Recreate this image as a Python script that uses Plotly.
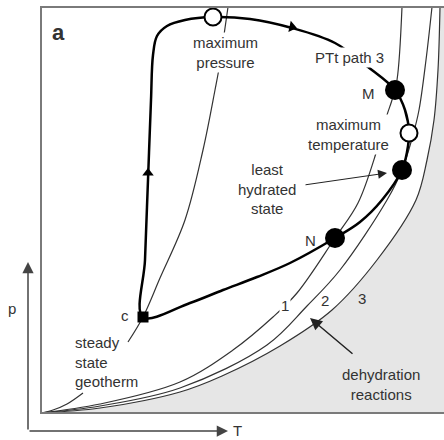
import plotly.graph_objects as go

# Schematic P-T diagram. Units: T measured from the box's left edge, p from the box's bottom (arbitrary units)
# Dehydration reaction curves 1, 2, 3
curve1_T = [0, 59, 139, 192, 232, 256, 294, 317, 336, 346, 351, 356, 361]
curve1_p = [0, 9, 31, 63, 96, 120, 175, 210, 263, 298, 313, 333, 406]
curve2_T = [0, 59, 139, 226, 266, 299, 346, 361, 372, 378, 385, 391]
curve2_p = [0, 7, 25, 68, 107, 143, 213, 243, 278, 303, 353, 406]
curve3_T = [0, 59, 139, 181, 239, 291, 336, 375, 386, 393, 397, 399]
curve3_p = [0, 5, 21, 37, 67, 103, 153, 213, 253, 293, 343, 406]

# Steady state geotherm (lower piece and upper piece, broken by its label)
geo_low_T = [0, 12, 26, 42]
geo_low_p = [0, 3, 9, 20]
geo_up_T = [87, 102, 119, 144, 162, 174, 179, 183, 187]
geo_up_p = [71, 96, 135, 193, 263, 323, 350, 378, 406]

# PTt path 3
path_T = [102, 104, 107, 110, 112, 116, 126, 144, 172, 209, 251, 294, 327, 354, 364, 368,
          366, 361, 341, 319, 294, 249, 216, 182, 149, 102]
path_p = [96, 153, 233, 313, 358, 377, 387, 393, 396, 394, 385, 370, 346, 323, 303, 280,
          261, 243, 213, 191, 175, 150, 136, 123, 110, 96]

# Key points
filled_T = [354, 361, 294]      # M, least hydrated state, N
filled_p = [323, 243, 175]
open_T = [172, 368]             # maximum pressure, maximum temperature
open_p = [396, 280]
c_T = [102]
c_p = [96]

box_top = 406
line_col = '#333333'
txt_col = '#333333'
font_fam = 'Liberation Sans, Arial, sans-serif'

fig = go.Figure()

# grey field beyond reaction 3
fig.add_trace(go.Scatter(x=[450, 450], y=[0, box_top], mode='lines', line=dict(width=0),
                         hoverinfo='skip', showlegend=False))
fig.add_trace(go.Scatter(x=curve3_T, y=curve3_p, mode='lines', fill='tonextx', fillcolor='#e6e6e6',
                         line=dict(color=line_col, width=1.2, shape='spline'), showlegend=False))
for xs, ys in [(curve1_T, curve1_p), (curve2_T, curve2_p), (geo_low_T, geo_low_p), (geo_up_T, geo_up_p)]:
    fig.add_trace(go.Scatter(x=xs, y=ys, mode='lines',
                             line=dict(color=line_col, width=1.2, shape='spline'), showlegend=False))

# the path
fig.add_trace(go.Scatter(x=path_T, y=path_p, mode='lines',
                         line=dict(color='black', width=2.5, shape='spline'), showlegend=False))

# direction arrows on path
fig.add_trace(go.Scatter(x=[107], y=[240], mode='markers',
                         marker=dict(symbol='triangle-up', size=10, color='black'), showlegend=False))
fig.add_trace(go.Scatter(x=[251], y=[386], mode='markers',
                         marker=dict(symbol='triangle-right', size=10, color='black', angle=12),
                         showlegend=False))

# points
fig.add_trace(go.Scatter(x=filled_T, y=filled_p, mode='markers',
                         marker=dict(symbol='circle', size=20, color='black'), showlegend=False))
fig.add_trace(go.Scatter(x=open_T, y=open_p, mode='markers',
                         marker=dict(symbol='circle', size=17, color='white',
                                     line=dict(color='black', width=2)), showlegend=False))
fig.add_trace(go.Scatter(x=c_T, y=c_p, mode='markers',
                         marker=dict(symbol='square', size=11, color='black'), showlegend=False))

# frame
fig.add_shape(type='rect', x0=0, x1=420, y0=0, y1=box_top, line=dict(color='#7a7a7a', width=2),
              layer='above')

def label(x, y, text, size=15, xanchor='center', bg=None, bold=False):
    if bold:
        text = '<b>' + text + '</b>'
    fig.add_annotation(x=x, y=y, text=text, showarrow=False, xanchor=xanchor, yanchor='middle',
                       font=dict(family=font_fam, size=size, color=txt_col),
                       bgcolor=bg, borderpad=1, align='left' if xanchor == 'left' else 'center')

label(17, 381, 'a', size=22, bold=True)
label(184, 361, 'maximum<br>pressure', bg='white')
label(308, 356, 'PTt path 3', bg='white')
label(327, 320, 'M')
label(307, 279, 'maximum<br>temperature', bg='white')
label(226, 224, 'least<br>hydrated<br>state')
label(269, 173, 'N')
label(84, 98, 'c')
label(32, 51, 'steady<br>state<br>geotherm', xanchor='left')
label(244, 108, '1', bg='white')
label(284, 113, '2')
label(321, 115, '3')
label(340, 29, 'dehydration<br>reactions')
label(-29, 105, 'p')
label(196, -17, 'T')

def arrow(tx, ty, hx, hy, width=1.2, size=1.5, color='#222222'):
    fig.add_annotation(x=hx, y=hy, ax=tx, ay=ty, xref='x', yref='y', axref='x', ayref='y',
                       showarrow=True, arrowhead=2, arrowsize=size, arrowwidth=width,
                       arrowcolor=color, standoff=0, text='')

arrow(263, 228, 346, 240, width=1, size=1.8)
arrow(313, 58, 269, 95, width=1.5, size=1.6)
arrow(-13, -18, -13, 151, width=1.5, size=1.5, color='#444444')
arrow(-13, -18, 187, -18, width=1.5, size=1.5, color='#444444')

fig.update_layout(width=444, height=440, margin=dict(l=0, r=0, t=0, b=0),
                  plot_bgcolor='white', paper_bgcolor='white', showlegend=False,
                  xaxis=dict(range=[-41, 403], visible=False, fixedrange=True),
                  yaxis=dict(range=[-27, 413], visible=False, fixedrange=True))

fig.write_html('out.html')
